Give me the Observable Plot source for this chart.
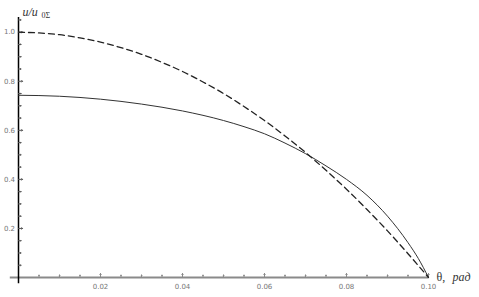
<!DOCTYPE html>
<html>
<head>
<meta charset="utf-8">
<script src="https://cdn.jsdelivr.net/npm/d3@7"></script>
<script src="https://cdn.jsdelivr.net/npm/@observablehq/plot@0.6"></script>
<style>
  html, body { margin: 0; padding: 0; background: #fff; }
</style>
</head>
<body>
<div id="chart"></div>
<script>
// θ values (rad)
const thetaDashed = [0, 0.005, 0.01, 0.015, 0.02, 0.025, 0.03, 0.035, 0.04, 0.045, 0.05, 0.055, 0.06, 0.065, 0.07, 0.075, 0.08, 0.085, 0.09, 0.095, 0.1];
const uDashed     = [1.0, 0.997, 0.99, 0.977, 0.96, 0.937, 0.91, 0.877, 0.84, 0.797, 0.75, 0.697, 0.64, 0.577, 0.51, 0.437, 0.36, 0.277, 0.19, 0.097, 0.0];

const thetaSolid = [0, 0.01, 0.02, 0.03, 0.04, 0.05, 0.055, 0.06, 0.065, 0.07, 0.075, 0.08, 0.085, 0.09, 0.095, 0.0975, 0.1];
const uSolid     = [0.743, 0.739, 0.727, 0.707, 0.679, 0.640, 0.615, 0.586, 0.548, 0.505, 0.455, 0.400, 0.335, 0.250, 0.142, 0.078, 0.0];

const xMajor = [0.02, 0.04, 0.06, 0.08, 0.10];
const xMajorLabels = ["0.02", "0.04", "0.06", "0.08", "0.10"];
const xMinor = [0.005, 0.01, 0.015, 0.025, 0.03, 0.035, 0.045, 0.05, 0.055, 0.065, 0.07, 0.075, 0.085, 0.09, 0.095];
const yMajor = [0.2, 0.4, 0.6, 0.8, 1.0];
const yMajorLabels = ["0.2", "0.4", "0.6", "0.8", "1.0"];
const yMinor = [0.05, 0.1, 0.15, 0.25, 0.3, 0.35, 0.45, 0.5, 0.55, 0.65, 0.7, 0.75, 0.85, 0.9, 0.95, 1.05];

const dashed = thetaDashed.map((t, i) => ({t, u: uDashed[i]}));
const solid = thetaSolid.map((t, i) => ({t, u: uSolid[i]}));

const labelColor = "#777";
const chart = Plot.plot({
  width: 479,
  height: 297,
  marginLeft: 18,
  marginRight: 51,
  marginTop: 17,
  marginBottom: 20,
  x: {domain: [0, 0.1], axis: null},
  y: {domain: [0, 1.06], axis: null},
  style: {background: "#fff"},
  marks: [
    // x axis line (extends a bit left of the y axis)
    Plot.ruleY([0], {x1: -0.002, x2: 0.1, stroke: "#8a8a8a", strokeWidth: 2}),
    // x ticks (pointing up)
    Plot.vector(xMajor, {x: d => d, y: 0, length: 4, rotate: 0, anchor: "start", stroke: "#8a8a8a", strokeWidth: 1}),
    Plot.vector(xMinor, {x: d => d, y: 0, length: 2.5, rotate: 0, anchor: "start", stroke: "#8a8a8a", strokeWidth: 1}),
    Plot.text(xMajor, {x: d => d, y: 0, text: (d, i) => xMajorLabels[i], dy: 9, fontSize: 7, fill: labelColor, fontFamily: "DejaVu Sans"}),
    // y axis line
    Plot.ruleX([0], {y1: -0.025, y2: 1.06, stroke: "#000", strokeWidth: 1.5}),
    // y ticks (pointing right)
    Plot.vector(yMajor, {x: 0, y: d => d, length: 4, rotate: 90, anchor: "start", stroke: "#555", strokeWidth: 1}),
    Plot.vector(yMinor, {x: 0, y: d => d, length: 2.5, rotate: 90, anchor: "start", stroke: "#555", strokeWidth: 1}),
    Plot.text(yMajor, {x: 0, y: d => d, text: (d, i) => yMajorLabels[i], dx: -9, fontSize: 7, fill: labelColor, fontFamily: "DejaVu Sans"}),
    // curves
    Plot.line(solid, {x: "t", y: "u", curve: "monotone-x", stroke: "#333", strokeWidth: 1}),
    Plot.line(dashed, {x: "t", y: "u", curve: "monotone-x", stroke: "#222", strokeWidth: 1.3, strokeDasharray: "6,4"}),
    // axis titles
    Plot.text(["θ, "], {x: 0.1, y: 0, dx: 8, textAnchor: "start", fontSize: 12, fill: "#333", fontFamily: "Liberation Serif"}),
    Plot.text(["рад"], {x: 0.1, y: 0, dx: 24, textAnchor: "start", fontSize: 12, fill: "#333", fontStyle: "italic", fontFamily: "Liberation Serif"}),
    Plot.text(["u/u"], {x: 0, y: 1.06, dx: 4, dy: -5, textAnchor: "start", fontSize: 12, fill: "#333", fontStyle: "italic", fontFamily: "Liberation Serif"}),
    Plot.text(["0Σ"], {x: 0, y: 1.06, dx: 23, dy: -2, textAnchor: "start", fontSize: 8, fill: "#333", fontFamily: "Liberation Serif"})
  ]
});
document.getElementById("chart").appendChild(chart);
</script>
</body>
</html>
